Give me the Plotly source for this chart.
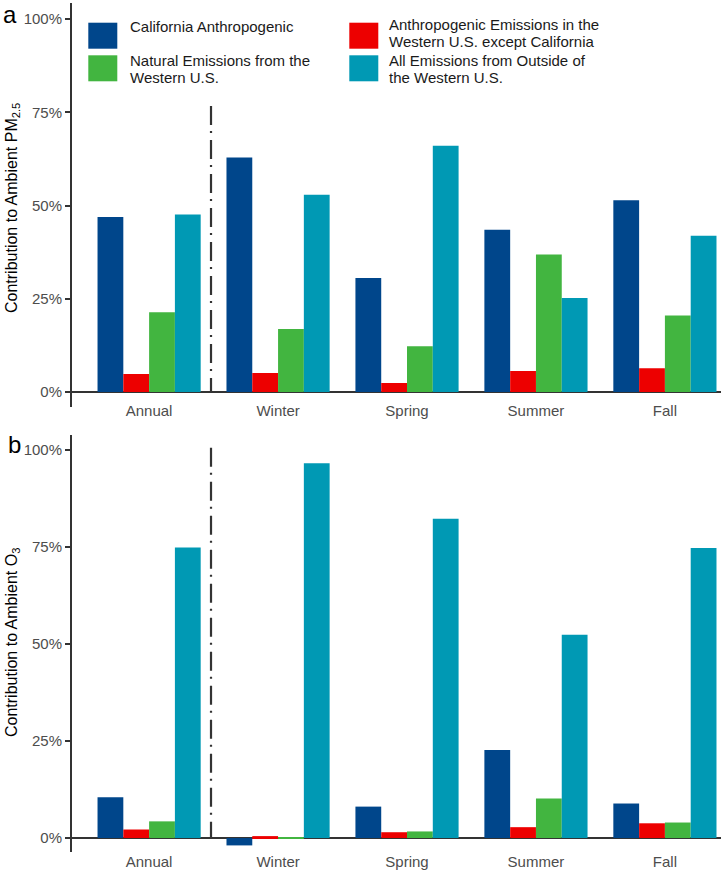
import plotly.graph_objects as go

# ---------------- data ----------------
categories = ["Annual", "Winter", "Spring", "Summer", "Fall"]

series_names = [
    "California Anthropogenic",
    "Anthropogenic Emissions in the Western U.S. except California",
    "Natural Emissions from the Western U.S.",
    "All Emissions from Outside of the Western U.S.",
]
legend_lines = [
    ["California Anthropogenic"],
    ["Anthropogenic Emissions in the", "Western U.S. except California"],
    ["Natural Emissions from the", "Western U.S."],
    ["All Emissions from Outside of", "the Western U.S."],
]
colors = ["#00468B", "#ED0000", "#42B540", "#0099B4"]

pm25_ca = [0.469, 0.629, 0.306, 0.435, 0.514]
pm25_wus = [0.048, 0.051, 0.024, 0.056, 0.064]
pm25_nat = [0.214, 0.169, 0.123, 0.369, 0.205]
pm25_out = [0.476, 0.529, 0.660, 0.252, 0.419]

o3_ca = [0.105, -0.019, 0.081, 0.227, 0.089]
o3_wus = [0.022, 0.005, 0.015, 0.028, 0.038]
o3_nat = [0.043, 0.001, 0.017, 0.102, 0.040]
o3_out = [0.749, 0.966, 0.823, 0.524, 0.748]

y_ticks = [0, 0.25, 0.5, 0.75, 1.0]

pm25_series = [pm25_ca, pm25_wus, pm25_nat, pm25_out]
o3_series = [o3_ca, o3_wus, o3_nat, o3_out]

# ---------------- layout geometry ----------------
W, H = 721, 875
ML, MR, MT, MB = 72, 0, 3, 23
PW = W - ML - MR
PH = H - MT - MB


def px_x(p):
    return (p - ML) / PW


def px_y(p):
    return (H - MB - p) / PH


FONT = "Liberation Sans, Arial, sans-serif"
AX = "#333333"
TXT = "#4d4d4d"

fig = go.Figure()

for vals, name, col in zip(pm25_series, series_names, colors):
    fig.add_trace(go.Bar(x=categories, y=vals, name=name, marker_color=col,
                         marker_line_width=0, showlegend=False,
                         xaxis="x", yaxis="y"))
for vals, name, col in zip(o3_series, series_names, colors):
    fig.add_trace(go.Bar(x=categories, y=vals, name=name, marker_color=col,
                         marker_line_width=0, showlegend=False,
                         xaxis="x2", yaxis="y2"))

xcommon = dict(range=[-0.598, 4.435], showline=False, showgrid=False, automargin=False,
               zeroline=False, ticks="", tickfont=dict(family=FONT, size=15, color=TXT))
ycommon = dict(tickvals=y_ticks, tickformat=".0%", showline=True, linecolor=AX,
               linewidth=2, ticks="outside", ticklen=5, tickwidth=1.5, tickcolor=AX,
               showgrid=False, zeroline=True, zerolinecolor=AX, zerolinewidth=2,
               automargin=False,
               tickfont=dict(family=FONT, size=15, color=TXT))

fig.update_layout(
    width=W, height=H,
    margin=dict(l=ML, r=MR, t=MT, b=MB, autoexpand=False),
    paper_bgcolor="white", plot_bgcolor="white",
    barmode="group", bargap=0.2, bargroupgap=0,
    font=dict(family=FONT),
    xaxis=dict(anchor="y", domain=[0, 1], ticklabelstandoff=-7, **xcommon),
    yaxis=dict(anchor="x", domain=[px_y(406.7), px_y(3)], range=[-0.0394, 1.043], **ycommon),
    xaxis2=dict(anchor="y2", domain=[0, 1], ticklabelstandoff=-1, **xcommon),
    yaxis2=dict(anchor="x2", domain=[0, px_y(435)], range=[-0.036, 1.039], **ycommon),
)

# dash-dot separators
fig.add_shape(type="line", xref="x", yref="y", x0=0.48, x1=0.48, y0=0.767, y1=0,
              line=dict(color=AX, width=2.2, dash="19px,6px,2px,7px"))
fig.add_shape(type="line", xref="x2", yref="y2", x0=0.48, x1=0.48, y0=1.006, y1=0,
              line=dict(color=AX, width=2.2, dash="19px,6px,2px,7px"))

# custom legend (2 x 2)
box_x = [88.3, 349.3, 88.3, 349.3]
box_y = [22.7, 22.7, 55.3, 55.3]
txt_x = [128.3, 386.7, 128.3, 386.7]
txt_y0 = [26.7, 25.0, 60.7, 60.7]
for i in range(4):
    fig.add_shape(type="rect", xref="paper", yref="paper",
                  x0=px_x(box_x[i]), x1=px_x(box_x[i] + 29),
                  y0=px_y(box_y[i]), y1=px_y(box_y[i] + 26),
                  fillcolor=colors[i], line=dict(width=0))
    for j, line in enumerate(legend_lines[i]):
        fig.add_annotation(xref="paper", yref="paper",
                           x=px_x(txt_x[i]), y=px_y(txt_y0[i] + j * 16.7),
                           xanchor="left", yanchor="middle", showarrow=False,
                           text=line, font=dict(family=FONT, size=15, color="#1a1a1a"))

# axis titles
fig.add_annotation(xref="paper", yref="paper", x=px_x(12), y=px_y(208),
                   text="Contribution to Ambient PM<sub>2.5</sub>", textangle=-90,
                   showarrow=False, xanchor="center", yanchor="middle",
                   font=dict(family=FONT, size=16, color="black"))
fig.add_annotation(xref="paper", yref="paper", x=px_x(12), y=px_y(643),
                   text="Contribution to Ambient O<sub>3</sub>", textangle=-90,
                   showarrow=False, xanchor="center", yanchor="middle",
                   font=dict(family=FONT, size=16, color="black"))

# panel labels
fig.add_annotation(xref="paper", yref="paper", x=px_x(10), y=px_y(15),
                   text="a", showarrow=False, xanchor="center", yanchor="middle",
                   font=dict(family=FONT, size=24, color="black"))
fig.add_annotation(xref="paper", yref="paper", x=px_x(14), y=px_y(445),
                   text="b", showarrow=False, xanchor="center", yanchor="middle",
                   font=dict(family=FONT, size=24, color="black"))

fig.write_html("out.html", config={"displayModeBar": False},
               post_script="document.body.style.margin='0px';document.body.style.overflow='hidden';")
